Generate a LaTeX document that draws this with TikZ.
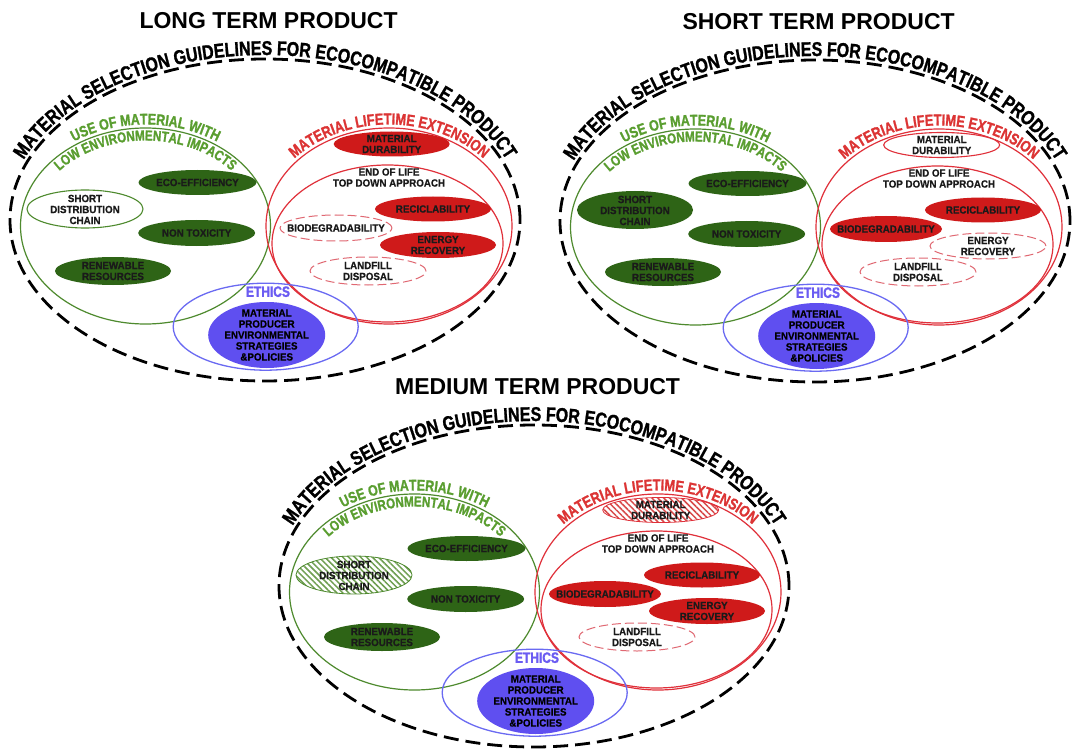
\documentclass[tikz,border=0pt]{standalone}
\usepackage{fontspec}
\setmainfont{Liberation Sans}
\newfontfamily\narrowbold[FakeStretch=0.8,BoldFeatures={FakeBold=1.2}]{Liberation Sans}
\newfontfamily\lblbold[FakeStretch=0.93,BoldFeatures={FakeBold=0.6}]{Liberation Sans}
\usetikzlibrary{decorations.text,patterns.meta}
\definecolor{gline}{HTML}{4E8A2E}
\definecolor{gtext}{HTML}{5A9E30}
\definecolor{gfillc}{HTML}{2E6416}
\definecolor{rline}{HTML}{E0303A}
\definecolor{rtext}{HTML}{DC3434}
\definecolor{rfillc}{HTML}{CF1A1A}
\definecolor{rdashc}{HTML}{E06872}
\definecolor{bline}{HTML}{6A6AF2}
\definecolor{bfillc}{HTML}{5F4FF0}
\definecolor{btext}{HTML}{6B5CF2}
\definecolor{ghatchc}{HTML}{6E9E50}
\definecolor{rhatchc}{HTML}{D84A4A}
\definecolor{lbltext}{HTML}{1A1A1A}
\tikzset{
  gfill/.style={fill=gfillc},
  gopen/.style={draw=gline, line width=1.1pt, fill=white},
  ghatch/.style={draw=gline, line width=0.8pt, pattern={Lines[angle=-45,distance=4.2pt,line width=1.5pt]}, pattern color=ghatchc},
  rfill/.style={fill=rfillc},
  ropen/.style={draw=rline, line width=1.1pt, fill=white},
  rhatch/.style={draw=rline, line width=0.8pt, pattern={Lines[angle=-45,distance=4.2pt,line width=1.5pt]}, pattern color=rhatchc},
  rdash/.style={draw=rdashc, line width=1pt, dash pattern=on 9pt off 4pt},
  bfill/.style={fill=bfillc},
  outerd/.style={draw=black, line width=2.8pt, dash pattern=on 15pt off 7pt},
  gring/.style={draw=gline, line width=1.2pt},
  rring/.style={draw=rline, line width=1.2pt},
  bring/.style={draw=bline, line width=1.3pt},
  lbl/.style={font=\lblbold\bfseries\fontsize{10.5}{11}\selectfont, align=center, inner sep=0pt, text=lbltext},
  ttl/.style={font=\bfseries\fontsize{23}{23}\selectfont, inner sep=0pt},
  ethicslbl/.style={font=\narrowbold\bfseries\fontsize{15}{15}\selectfont, text=btext, inner sep=0pt}
}
\newcommand\drawpanel[8]{%
\begin{scope}[shift={(#2,-#3)}]
  \node[ttl] (#1title) at (268.6,-20.7) {#4};
  \path[outerd] (265,-220) ellipse [x radius=255pt, y radius=161pt];
  \path[shift={(265,-220)}, decorate, decoration={text along path, text align=center,
     text={|\narrowbold\bfseries\fontsize{20}{20}\selectfont|MATERIAL SELECTION GUIDELINES FOR ECOCOMPATIBLE PRODUCT}}]
     (175:259pt and 165pt) arc[start angle=175, end angle=5, x radius=259pt, y radius=165pt];
  % green group
  \path[gring] (145.5,-226) ellipse [x radius=125pt, y radius=98pt];
  \path[shift={(145.5,-226)}, decorate, decoration={text along path, text align=center,
     text={|\narrowbold\bfseries\fontsize{15.5}{15.5}\selectfont\color{gtext}|USE OF MATERIAL WITH}}]
     (170:128.5pt and 101.5pt) arc[start angle=170, end angle=10, x radius=128.5pt, y radius=101.5pt];
  \path[shift={(145.5,-226)}, decorate, decoration={text along path, text align=center,
     text={|\narrowbold\bfseries\fontsize{14.5}{14.5}\selectfont\color{gtext}|LOW ENVIRONMENTAL IMPACTS}}]
     (170:112.5pt and 85.5pt) arc[start angle=170, end angle=10, x radius=112.5pt, y radius=85.5pt];
  % red group
  \path[rring] (389,-226) ellipse [x radius=123pt, y radius=98pt];
  \path[rring] (387.5,-243.5) ellipse [x radius=115.5pt, y radius=78.5pt];
  \path[shift={(389,-226)}, decorate, decoration={text along path, text align=center,
     text={|\narrowbold\bfseries\fontsize{16}{16}\selectfont\color{rtext}|MATERIAL LIFETIME EXTENSION}}]
     (170:126.5pt and 101.5pt) arc[start angle=170, end angle=10, x radius=126.5pt, y radius=101.5pt];
  % blue group
  \path[bring] (265.7,-326.7) ellipse [x radius=92.5pt, y radius=43.5pt];
  % item shapes
  \path[gfill] (197.5,-182.5) ellipse [x radius=59pt, y radius=12.5pt];
  \path[#5] (85,-209) ellipse [x radius=58pt, y radius=19pt];
  \path[gfill] (196.7,-233) ellipse [x radius=58.5pt, y radius=13pt];
  \path[gfill] (113,-271) ellipse [x radius=58pt, y radius=14pt];
  \path[#6] (391.7,-144) ellipse [x radius=58pt, y radius=12.5pt];
  \path[rfill] (433,-209) ellipse [x radius=58pt, y radius=12.5pt];
  \path[#7] (336,-228) ellipse [x radius=56pt, y radius=13pt];
  \path[#8] (438,-245) ellipse [x radius=58pt, y radius=13pt];
  \path[rdash] (368,-271) ellipse [x radius=58pt, y radius=14pt];
  \path[bfill] (266.7,-335) ellipse [x radius=58.5pt, y radius=33pt];
  % item texts
  \node[lbl] (#1eco) at (197.5,-182.5) {ECO-EFFICIENCY};
  \node[lbl] (#1short) at (85,-209.5) {SHORT\\DISTRIBUTION\\CHAIN};
  \node[lbl] (#1nontox) at (196.7,-233) {NON TOXICITY};
  \node[lbl] (#1renew) at (113,-271) {RENEWABLE\\RESOURCES};
  \node[lbl] (#1matdur) at (391.7,-144) {MATERIAL\\DURABILITY};
  \node[lbl] (#1eol) at (389,-177.5) {END OF LIFE\\TOP DOWN APPROACH};
  \node[lbl] (#1recic) at (433,-209) {RECICLABILITY};
  \node[lbl] (#1biodeg) at (336,-228) {BIODEGRADABILITY};
  \node[lbl] (#1energy) at (438,-245) {ENERGY\\RECOVERY};
  \node[lbl] (#1landfill) at (368,-271) {LANDFILL\\DISPOSAL};
  \node[ethicslbl] (#1ethics) at (268,-291.7) {ETHICS};
  \node[lbl, text=black] (#1policy) at (266.7,-335) {MATERIAL\\PRODUCER\\ENVIRONMENTAL\\STRATEGIES\\\&POLICIES};
\end{scope}}
\begin{document}
\begin{tikzpicture}[x=1pt, y=1pt]
  \useasboundingbox (0,0) rectangle (1072,-749);
  \fill[white] (0,0) rectangle (1072,-749);
  \drawpanel{L}{0}{0}{LONG TERM PRODUCT}{gopen}{rfill}{rdash}{rfill}
  \drawpanel{S}{550}{1}{SHORT TERM PRODUCT}{gfill}{ropen}{rfill}{rdash}
  \drawpanel{M}{269}{366}{MEDIUM TERM PRODUCT}{ghatch}{rhatch}{rfill}{rfill}
\end{tikzpicture}
\end{document}
